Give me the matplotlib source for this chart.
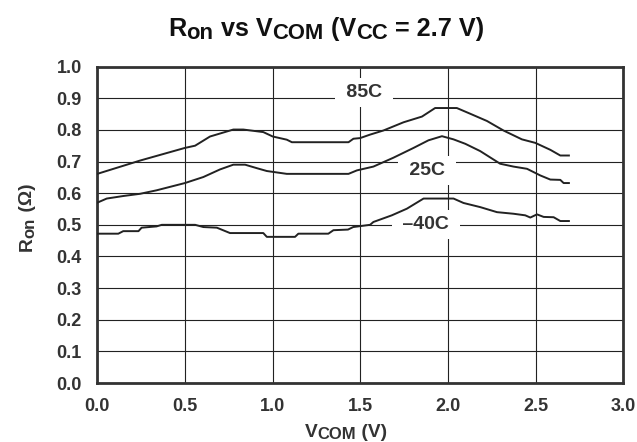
import matplotlib
matplotlib.use('Agg')
from matplotlib import pyplot as plt

plt.rcParams['font.family'] = ['Liberation Sans', 'DejaVu Sans']
plt.rcParams['font.weight'] = 'bold'

W, H = 637, 442

v_85 = [0.0, 0.244, 0.50, 0.558, 0.643, 0.776, 0.833, 0.947, 1.001, 1.081, 1.110,
        1.433, 1.461, 1.499, 1.556, 1.632, 1.747, 1.852, 1.927, 2.051, 2.127, 2.223,
        2.317, 2.422, 2.498, 2.584, 2.641, 2.69]
r_85 = [0.661, 0.703, 0.743, 0.750, 0.779, 0.801, 0.801, 0.793, 0.779, 0.769, 0.761,
        0.761, 0.772, 0.774, 0.785, 0.798, 0.824, 0.842, 0.869, 0.869, 0.851, 0.828,
        0.798, 0.770, 0.759, 0.737, 0.719, 0.719]

v_25 = [0.0, 0.054, 0.148, 0.244, 0.338, 0.50, 0.605, 0.700, 0.776, 0.843, 0.910,
        0.967, 1.081, 1.433, 1.481, 1.575, 1.689, 1.804, 1.889, 1.966, 2.032, 2.099,
        2.184, 2.298, 2.374, 2.451, 2.527, 2.584, 2.641, 2.660, 2.69]
r_25 = [0.570, 0.583, 0.591, 0.598, 0.609, 0.632, 0.651, 0.675, 0.690, 0.690, 0.679,
        0.670, 0.661, 0.661, 0.672, 0.684, 0.712, 0.743, 0.767, 0.780, 0.770, 0.756,
        0.733, 0.693, 0.684, 0.677, 0.656, 0.643, 0.642, 0.632, 0.632]

v_m40 = [0.0, 0.120, 0.148, 0.235, 0.253, 0.338, 0.368, 0.558, 0.605, 0.682, 0.757,
         0.947, 0.967, 1.128, 1.147, 1.318, 1.347, 1.430, 1.460, 1.556, 1.575, 1.680,
         1.766, 1.861, 2.032, 2.089, 2.184, 2.280, 2.374, 2.441, 2.470, 2.508, 2.546,
         2.603, 2.641, 2.69]
r_m40 = [0.472, 0.472, 0.480, 0.480, 0.491, 0.495, 0.500, 0.500, 0.493, 0.491, 0.474,
         0.474, 0.462, 0.462, 0.472, 0.472, 0.483, 0.485, 0.493, 0.500, 0.509, 0.530,
         0.551, 0.583, 0.583, 0.569, 0.556, 0.540, 0.535, 0.530, 0.523, 0.533, 0.525,
         0.524, 0.512, 0.512]

curve_names = ['85C', '25C', '\u201340C']
label_pos = [(1.52, 0.918), (1.88, 0.672), (1.875, 0.502)]

x_ticks = [0.0, 0.5, 1.0, 1.5, 2.0, 2.5, 3.0]
y_ticks = [0.0, 0.1, 0.2, 0.3, 0.4, 0.5, 0.6, 0.7, 0.8, 0.9, 1.0]

# (text, is_subscript)
title_parts = [('R', 0), ('on', 1), (' vs V', 0), ('COM', 1), (' (V', 0), ('CC', 1), (' = 2.7 V)', 0)]
xlabel_parts = [('V', 0), ('COM', 1), (' (V)', 0)]
ylabel_parts = [('R', 0), ('on', 1), (' (\u03a9)', 0)]


def sub_label(fig, xc, yb, parts, size, drop, rotation=0, **kw):
    # xc, yb in pixels from top-left: centre along the text, and the baseline
    r = fig.canvas.get_renderer()
    items = []
    for s, sub in parts:
        t = fig.text(0, 0, s, fontsize=size * (0.87 if sub else 1.0), ha='left',
                     va='baseline', rotation_mode='anchor', **kw)
        w = t.get_window_extent(r).width
        items.append((t, w, drop if sub else 0))
    total = sum(i[1] for i in items)
    pos = -total / 2
    for t, w, d in items:
        if rotation == 0:
            px, py = xc + pos, yb + d
        else:
            px, py = yb + d, xc - pos
        t.set_position((px / W, 1 - py / H))
        t.set_rotation(rotation)
        pos += w


fig = plt.figure(figsize=(W / 100, H / 100), dpi=100)
ax = fig.add_axes([0.1527, 0.1333, 0.8257, 0.7161])

ax.set_xlim(0, 3.0)
ax.set_ylim(0, 1.0)
ax.set_xticks(x_ticks, ['{:.1f}'.format(i) for i in x_ticks])
ax.set_yticks(y_ticks, ['{:.1f}'.format(i) for i in y_ticks])
ax.tick_params(length=0, labelsize=13, labelcolor='#333333')
ax.tick_params(axis='x', pad=11)
ax.tick_params(axis='y', pad=11)
ax.grid(True, color='#222222', linewidth=0.8, zorder=1)
ax.set_axisbelow(True)
for s in ax.spines.values():
    s.set_linewidth(2.0)
    s.set_color('#333333')

for v, r in [(v_85, r_85), (v_25, r_25), (v_m40, r_m40)]:
    ax.plot(v, r, color='#222222', linewidth=1.4, zorder=5)

for name, (x, y) in zip(curve_names, label_pos):
    ax.text(x, y, ' ' + name + ' ', fontsize=14, color='#333333', ha='center',
            va='center', zorder=3,
            bbox=dict(boxstyle='square,pad=0.3', fc='white', ec='none'))

sub_label(fig, 326, 35.7, title_parts, 18.2, 3.3, color='#111111')
sub_label(fig, 346, 436.7, xlabel_parts, 13.8, 2.6, color='#333333')
sub_label(fig, 217.5, 31.5, ylabel_parts, 13.8, 2.6, rotation=90, color='#333333')

plt.savefig('out.png', dpi=100)
